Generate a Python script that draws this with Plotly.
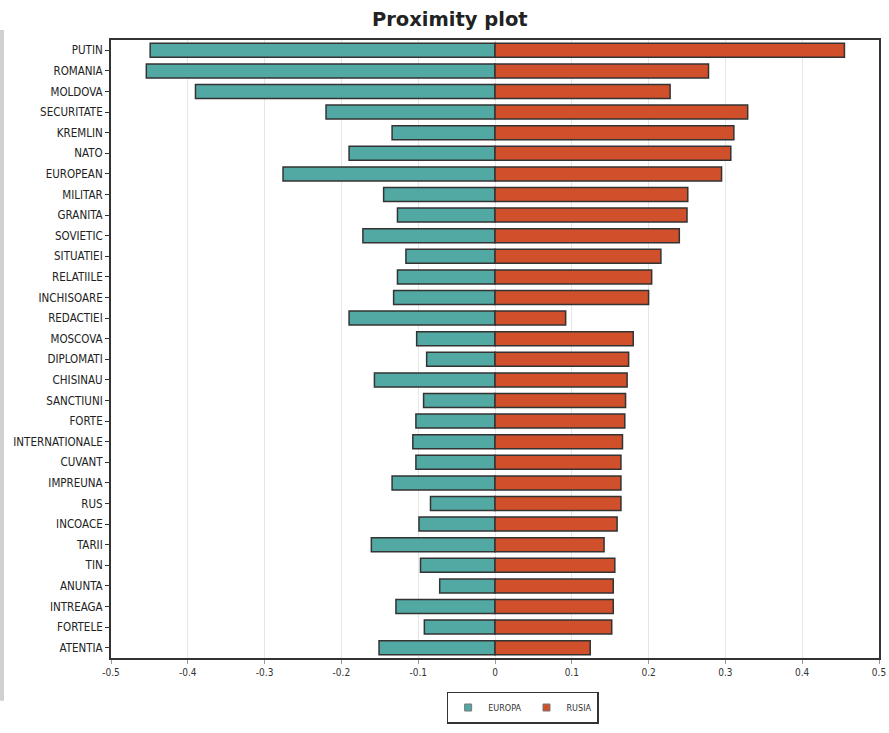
import plotly.graph_objects as go

# terms, top to bottom
terms = ['PUTIN', 'ROMANIA', 'MOLDOVA', 'SECURITATE', 'KREMLIN', 'NATO', 'EUROPEAN',
         'MILITAR', 'GRANITA', 'SOVIETIC', 'SITUATIEI', 'RELATIILE', 'INCHISOARE',
         'REDACTIEI', 'MOSCOVA', 'DIPLOMATI', 'CHISINAU', 'SANCTIUNI', 'FORTE',
         'INTERNATIONALE', 'CUVANT', 'IMPREUNA', 'RUS', 'INCOACE', 'TARII', 'TIN',
         'ANUNTA', 'INTREAGA', 'FORTELE', 'ATENTIA']

europa = [-0.449, -0.454, -0.390, -0.220, -0.134, -0.190, -0.276,
          -0.145, -0.127, -0.172, -0.116, -0.127, -0.132,
          -0.190, -0.102, -0.089, -0.157, -0.093, -0.103,
          -0.107, -0.103, -0.134, -0.084, -0.099, -0.161, -0.097,
          -0.072, -0.129, -0.092, -0.151]

rusia = [0.455, 0.278, 0.228, 0.329, 0.311, 0.307, 0.295,
         0.251, 0.250, 0.240, 0.216, 0.204, 0.200,
         0.092, 0.180, 0.174, 0.172, 0.170, 0.169,
         0.166, 0.164, 0.164, 0.164, 0.159, 0.142, 0.156,
         0.154, 0.154, 0.152, 0.124]

tick_vals = [-0.5, -0.4, -0.3, -0.2, -0.1, 0, 0.1, 0.2, 0.3, 0.4, 0.5]
tick_text = ['-0.5', '-0.4', '-0.3', '-0.2', '-0.1', '0', '0.1', '0.2', '0.3', '0.4', '0.5']

teal = '#52A9A4'
red = '#D0502B'

fig = go.Figure()

fig.add_trace(go.Bar(
    y=terms, x=europa, orientation='h', name='EUROPA', showlegend=False,
    marker=dict(color=teal, line=dict(color='#333333', width=1.5))
))
fig.add_trace(go.Bar(
    y=terms, x=rusia, orientation='h', name='RUSIA', showlegend=False,
    marker=dict(color=red, line=dict(color='#333333', width=1.5))
))

# small square legend keys like the original
for name, col in [('EUROPA', teal), ('RUSIA', red)]:
    fig.add_trace(go.Scatter(
        x=[None], y=[None], mode='markers', name=name,
        marker=dict(symbol='square', size=7, color=col, line=dict(color='#777777', width=1))
    ))

fig.update_layout(
    width=889, height=733,
    margin=dict(l=111, r=10, t=40, b=68),
    barmode='relative',
    bargap=0.32,
    plot_bgcolor='white',
    paper_bgcolor='white',
    font=dict(family='DejaVu Sans Condensed', color='#222222', size=11),
    title=dict(text='<b>Proximity plot</b>', x=0.506, xref='container', xanchor='center',
               y=1 - 19 / 733, yref='container', yanchor='middle',
               font=dict(family='DejaVu Sans', size=19.5, color='#222222')),
    legend=dict(orientation='h', x=0.536, xanchor='center', y=-0.106, yanchor='bottom',
                bordercolor='#333333', borderwidth=1.5, bgcolor='white',
                font=dict(size=9, color='#333333'), itemwidth=30,
                tracegroupgap=0),
    # grey strip on the left edge of the scan
    shapes=[dict(type='rect', xref='paper', yref='paper',
                 x0=-0.1445, x1=-0.1393, y0=-0.069, y1=1.016,
                 fillcolor='#D0D0D0', line=dict(width=0), layer='below')],
)

fig.update_xaxes(
    range=[-0.5, 0.5], tickvals=tick_vals, ticktext=tick_text,
    showgrid=True, gridcolor='#E6E6E6', gridwidth=1,
    zeroline=False, automargin=False,
    showline=True, linecolor='#333333', linewidth=2, mirror=True,
    ticks='outside', ticklen=4, tickcolor='#999999',
    tickfont=dict(size=10, color='#333333')
)
fig.update_yaxes(
    autorange='reversed', automargin=False,
    showgrid=False,
    showline=True, linecolor='#333333', linewidth=2, mirror=True,
    ticks='outside', ticklen=4, tickcolor='#333333',
    tickfont=dict(size=11.5, color='#222222')
)

# drop the default body margin so the figure fills the window
fig.write_html('out.html', config={'displayModeBar': False},
               post_script="document.body.style.margin='0px';")
